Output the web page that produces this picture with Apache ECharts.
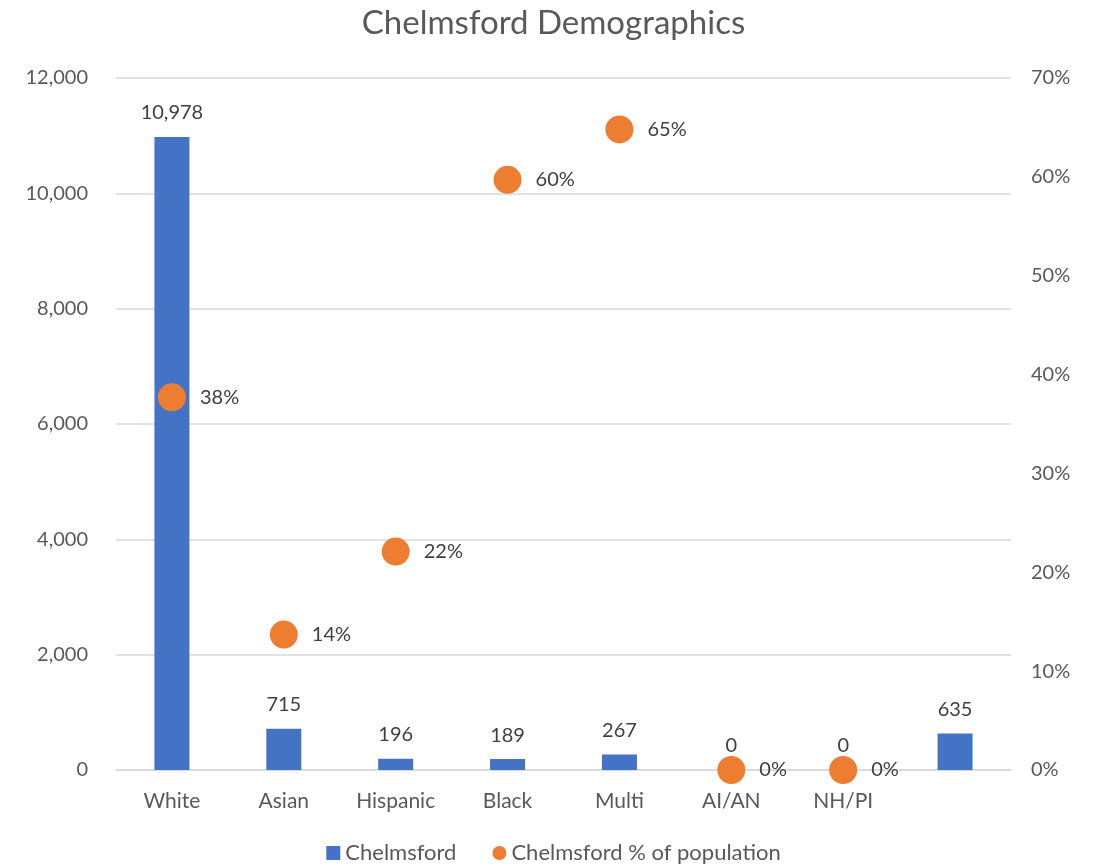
<!DOCTYPE html>
<html><head><meta charset="utf-8">
<script src="https://cdn.jsdelivr.net/npm/echarts@6/dist/echarts.min.js"></script>
<style>html,body{margin:0;padding:0;background:#fff}#c{width:1107px;height:867px}</style>
</head><body><div id="c"></div>
<script>
const categories = ['White','Asian','Hispanic','Black','Multi','AI/AN','NH/PI',''];
const counts = [10978, 715, 196, 189, 267, 0, 0, 635];
const shares = [0.377, 0.137, 0.221, 0.597, 0.648, 0, 0, '-'];
const leftTicks = [0, 12000, 2000];
const rightTicks = [0, 0.7, 0.1];
const FONT = 'Lato, "Open Sans", sans-serif';
const TXT = '#595959';
const chart = echarts.init(document.getElementById('c'));
chart.setOption({
  animation: false,
  textStyle: {fontFamily: FONT},
  title: {text: 'Chelmsford Demographics', left: 'center', top: 2,
    textStyle: {fontFamily: FONT, fontSize: 33, fontWeight: 'normal', color: TXT}},
  grid: {left: 116, right: 96, top: 78, bottom: 97},
  legend: {top: 842, left: 'center', itemGap: 36, itemWidth: 14, itemHeight: 14, padding: 0,
    textStyle: {fontFamily: FONT, fontSize: 22, color: TXT},
    data: [{name: 'Chelmsford', icon: 'rect'}, {name: 'Chelmsford % of population', icon: 'circle'}]},
  xAxis: {type: 'category', data: categories,
    axisLine: {lineStyle: {color: '#d9d9d9', width: 1.5}}, axisTick: {show: false},
    axisLabel: {fontFamily: FONT, fontSize: 21, color: TXT, margin: 21}},
  yAxis: [
    {type: 'value', min: leftTicks[0], max: leftTicks[1], interval: leftTicks[2],
      axisLine: {show: false}, axisTick: {show: false},
      splitLine: {lineStyle: {color: '#d9d9d9', width: 1.5}},
      axisLabel: {fontFamily: FONT, fontSize: 20, color: TXT, margin: 28,
        formatter: v => v.toLocaleString('en-US')}},
    {type: 'value', min: rightTicks[0], max: rightTicks[1], interval: rightTicks[2],
      axisLine: {show: false}, axisTick: {show: false}, splitLine: {show: false},
      axisLabel: {fontFamily: FONT, fontSize: 20, color: TXT, margin: 20,
        formatter: v => Math.round(v * 100) + '%'}}
  ],
  series: [
    {name: 'Chelmsford', type: 'bar', data: counts, barWidth: 35, yAxisIndex: 0,
      itemStyle: {color: '#4472c4'},
      label: {show: true, position: 'top', distance: 14, fontFamily: FONT, fontSize: 20, color: '#404040',
        formatter: p => p.value.toLocaleString('en-US')}},
    {name: 'Chelmsford % of population', type: 'scatter', data: shares, yAxisIndex: 1,
      symbolSize: 28, itemStyle: {color: '#ed7d31', opacity: 1},
      label: {show: true, position: 'right', distance: 14, fontFamily: FONT, fontSize: 20, color: '#404040',
        formatter: p => Math.round(p.value * 100) + '%'}}
  ]
});
</script></body></html>
